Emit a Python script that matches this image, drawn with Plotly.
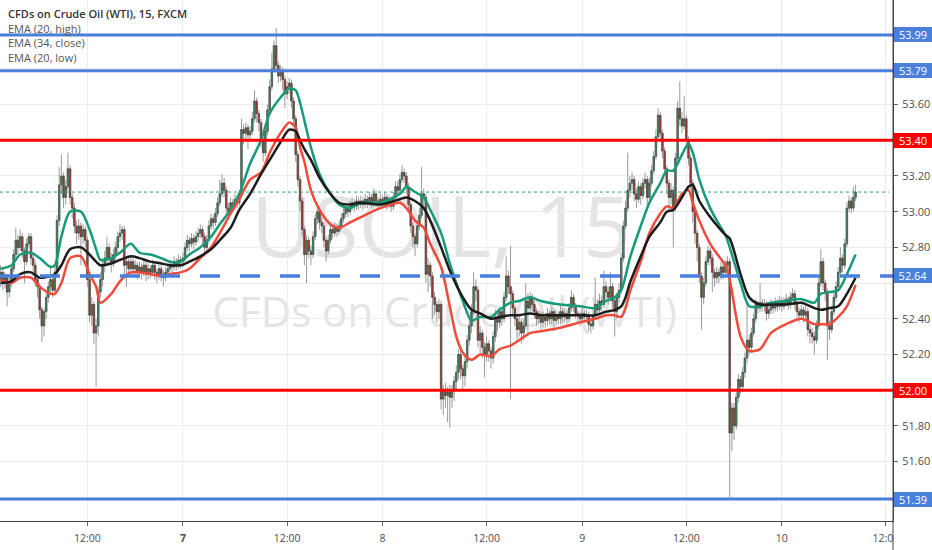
import plotly.graph_objects as go

# ---------------- data (15-minute candles, index = bar number) ----------------
opens = [
52.62, 52.66, 52.60, 52.63, 52.55, 52.60, 52.68, 52.76, 52.84, 52.80,
52.86, 52.78, 52.72, 52.82, 52.86, 52.74, 52.70, 52.62, 52.58, 52.45,
52.36, 52.44, 52.52, 52.58, 52.62, 52.56, 52.66, 52.95, 53.15, 53.20,
53.08, 53.14, 53.24, 53.08, 53.02, 52.92, 52.88, 52.92, 52.86, 52.90,
52.84, 52.62, 52.42, 52.48, 52.32, 52.36, 52.55, 52.62, 52.70, 52.74,
52.80, 52.74, 52.72, 52.76, 52.80, 52.86, 52.88, 52.90, 52.70, 52.72,
52.68, 52.72, 52.68, 52.70, 52.66, 52.69, 52.66, 52.70, 52.65, 52.68,
52.66, 52.70, 52.66, 52.64, 52.68, 52.65, 52.63, 52.66, 52.68, 52.70,
52.69, 52.72, 52.70, 52.73, 52.72, 52.74, 52.80, 52.84, 52.82, 52.85,
52.83, 52.86, 52.88, 52.90, 52.86, 52.80, 52.84, 52.92, 52.96, 52.94,
52.99, 53.05, 53.10, 53.16, 53.12, 53.02, 53.00, 53.05, 53.03, 53.07,
53.05, 53.10, 53.46, 53.44, 53.47, 53.43, 53.45, 53.52, 53.62, 53.55,
53.50, 53.40, 53.33, 53.45, 53.57, 53.70, 53.80, 53.93, 53.82, 53.76,
53.79, 53.74, 53.66, 53.70, 53.72, 53.62, 53.52, 53.32, 53.18, 53.06,
52.90, 52.76, 52.84, 52.78, 52.76, 52.86, 52.96, 53.00, 52.94, 52.92,
52.84, 52.78, 52.84, 52.90, 52.88, 52.91, 52.89, 52.92, 52.96, 52.99,
53.02, 53.00, 53.03, 53.05, 53.03, 53.06, 53.04, 53.06, 53.04, 53.07,
53.05, 53.08, 53.05, 53.10, 53.06, 53.04, 53.07, 53.05, 53.08, 53.04,
53.06, 53.03, 53.08, 53.14, 53.12, 53.18, 53.22, 53.20, 53.14, 53.04,
52.92, 52.86, 52.82, 52.92, 52.98, 53.10, 53.08, 52.65, 52.70, 52.64,
52.52, 52.48, 52.44, 52.48, 51.95, 52.00, 51.97, 51.99, 51.96, 52.00,
52.05, 52.10, 52.20, 52.12, 52.08, 52.16, 52.28, 52.36, 52.44, 52.58,
52.56, 52.28, 52.32, 52.24, 52.20, 52.26, 52.22, 52.18, 52.30, 52.41,
52.38, 52.44, 52.40, 52.52, 52.64, 52.58, 52.54, 52.46, 52.40, 52.34,
52.38, 52.32, 52.36, 52.50, 52.46, 52.52, 52.48, 52.44, 52.40, 52.42,
52.38, 52.41, 52.39, 52.43, 52.40, 52.44, 52.39, 52.42, 52.40, 52.44,
52.41, 52.43, 52.40, 52.46, 52.52, 52.47, 52.43, 52.42, 52.40, 52.43,
52.41, 52.42, 52.37, 52.36, 52.42, 52.48, 52.45, 52.50, 52.48, 52.58,
52.55, 52.52, 52.58, 52.50, 52.44, 52.52, 52.56, 52.74, 52.92, 53.02,
53.12, 53.16, 53.18, 53.10, 53.07, 53.14, 53.09, 53.16, 53.18, 53.08,
53.16, 53.23, 53.31, 53.42, 53.54, 53.44, 53.34, 53.24, 53.16, 53.08,
53.12, 53.02, 53.30, 53.58, 53.52, 53.48, 53.52, 53.40, 53.30, 53.16,
53.00, 52.88, 52.80, 52.64, 52.52, 52.60, 52.72, 52.78, 52.74, 52.66,
52.63, 52.66, 52.64, 52.69, 52.66, 52.70, 52.72, 51.76, 51.90, 51.80,
51.96, 52.06, 52.02, 52.10, 52.18, 52.28, 52.24, 52.32, 52.40, 52.48,
52.46, 52.49, 52.47, 52.48, 52.43, 52.45, 52.48, 52.46, 52.49, 52.47,
52.50, 52.47, 52.49, 52.51, 52.48, 52.52, 52.54, 52.48, 52.44, 52.42,
52.45, 52.42, 52.44, 52.34, 52.32, 52.30, 52.28, 52.36, 52.60, 52.72,
52.60, 52.55, 52.36, 52.34, 52.44, 52.52, 52.58, 52.66, 52.74, 52.70,
52.82, 53.02, 53.06, 53.02, 53.08,
]

highs = [
52.70, 52.68, 52.66, 52.65, 52.63, 52.70, 52.79, 52.91, 52.87, 52.90,
52.88, 52.80, 52.85, 52.88, 52.88, 52.76, 52.72, 52.65, 52.60, 52.47,
52.46, 52.55, 52.61, 52.70, 52.64, 52.70, 52.98, 53.25, 53.32, 53.22,
53.18, 53.33, 53.26, 53.10, 53.05, 52.95, 52.96, 52.94, 52.93, 52.92,
52.86, 52.64, 52.52, 52.50, 52.40, 52.58, 52.66, 52.74, 52.78, 52.86,
52.82, 52.77, 52.79, 52.83, 52.89, 52.93, 52.92, 52.92, 52.75, 52.74,
52.75, 52.74, 52.73, 52.72, 52.72, 52.71, 52.73, 52.72, 52.71, 52.70,
52.73, 52.72, 52.68, 52.71, 52.70, 52.67, 52.69, 52.71, 52.73, 52.72,
52.75, 52.74, 52.76, 52.75, 52.77, 52.83, 52.87, 52.86, 52.88, 52.87,
52.89, 52.91, 52.93, 52.92, 52.88, 52.87, 52.95, 52.99, 52.98, 53.02,
53.08, 53.18, 53.21, 53.19, 53.14, 53.05, 53.08, 53.07, 53.10, 53.09,
53.12, 53.52, 53.49, 53.50, 53.49, 53.48, 53.56, 53.68, 53.64, 53.57,
53.52, 53.42, 53.48, 53.60, 53.74, 53.89, 53.96, 54.03, 53.84, 53.82,
53.81, 53.76, 53.73, 53.75, 53.74, 53.64, 53.54, 53.34, 53.20, 53.08,
52.92, 52.87, 52.86, 52.81, 52.89, 52.99, 53.04, 53.02, 52.97, 52.94,
52.86, 52.87, 52.93, 52.92, 52.94, 52.93, 52.95, 52.99, 53.04, 53.05,
53.04, 53.06, 53.08, 53.07, 53.09, 53.08, 53.09, 53.08, 53.10, 53.09,
53.11, 53.10, 53.13, 53.12, 53.08, 53.10, 53.09, 53.11, 53.10, 53.09,
53.08, 53.11, 53.17, 53.17, 53.21, 53.26, 53.24, 53.22, 53.16, 53.06,
52.94, 52.88, 52.95, 53.02, 53.25, 53.13, 53.10, 52.74, 52.72, 52.66,
52.55, 52.50, 52.51, 52.50, 52.03, 52.04, 52.02, 52.03, 52.03, 52.08,
52.14, 52.23, 52.22, 52.14, 52.19, 52.31, 52.40, 52.48, 52.66, 52.62,
52.58, 52.36, 52.34, 52.27, 52.30, 52.28, 52.24, 52.33, 52.45, 52.44,
52.47, 52.46, 52.55, 52.75, 52.67, 52.81, 52.56, 52.48, 52.42, 52.41,
52.40, 52.40, 52.60, 52.54, 52.55, 52.54, 52.50, 52.46, 52.45, 52.44,
52.44, 52.43, 52.46, 52.45, 52.47, 52.46, 52.45, 52.44, 52.48, 52.46,
52.46, 52.45, 52.49, 52.56, 52.54, 52.49, 52.45, 52.44, 52.46, 52.45,
52.45, 52.44, 52.40, 52.45, 52.63, 52.51, 52.54, 52.53, 52.67, 52.61,
52.58, 52.66, 52.60, 52.52, 52.55, 52.60, 52.77, 52.95, 53.06, 53.33,
53.20, 53.22, 53.20, 53.13, 53.17, 53.16, 53.19, 53.22, 53.20, 53.19,
53.26, 53.34, 53.46, 53.58, 53.56, 53.46, 53.36, 53.26, 53.18, 53.16,
53.14, 53.33, 53.62, 53.73, 53.56, 53.65, 53.54, 53.42, 53.32, 53.18,
53.02, 52.90, 52.82, 52.66, 52.63, 52.75, 52.81, 52.80, 52.76, 52.68,
52.69, 52.68, 52.72, 52.71, 52.73, 52.75, 52.74, 51.93, 51.93, 51.99,
52.09, 52.08, 52.13, 52.21, 52.49, 52.31, 52.35, 52.43, 52.51, 52.50,
52.60, 52.51, 52.51, 52.50, 52.48, 52.51, 52.50, 52.52, 52.51, 52.53,
52.52, 52.52, 52.54, 52.53, 52.55, 52.57, 52.56, 52.50, 52.46, 52.48,
52.47, 52.47, 52.46, 52.37, 52.35, 52.33, 52.39, 52.63, 52.79, 52.74,
52.62, 52.57, 52.39, 52.47, 52.55, 52.61, 52.69, 52.80, 52.76, 52.85,
53.05, 53.09, 53.08, 53.14, 53.15,
]

lows = [
52.58, 52.56, 52.57, 52.47, 52.52, 52.58, 52.66, 52.74, 52.76, 52.78,
52.74, 52.60, 52.70, 52.80, 52.70, 52.64, 52.58, 52.52, 52.40, 52.27,
52.30, 52.40, 52.49, 52.55, 52.52, 52.54, 52.64, 52.92, 53.10, 53.02,
53.04, 53.12, 53.04, 52.96, 52.88, 52.82, 52.84, 52.70, 52.82, 52.80,
52.58, 52.38, 52.36, 52.26, 52.02, 52.30, 52.52, 52.58, 52.66, 52.70,
52.70, 52.66, 52.69, 52.73, 52.77, 52.83, 52.84, 52.64, 52.58, 52.64,
52.65, 52.64, 52.65, 52.62, 52.63, 52.62, 52.64, 52.61, 52.62, 52.63,
52.64, 52.62, 52.60, 52.62, 52.61, 52.58, 52.61, 52.64, 52.66, 52.66,
52.67, 52.67, 52.68, 52.68, 52.69, 52.72, 52.78, 52.78, 52.80, 52.79,
52.81, 52.83, 52.85, 52.82, 52.76, 52.78, 52.82, 52.90, 52.90, 52.92,
52.97, 53.03, 53.08, 53.08, 52.98, 52.96, 52.98, 53.00, 53.01, 53.02,
53.03, 53.08, 53.38, 53.40, 53.35, 53.40, 53.43, 53.50, 53.50, 53.45,
53.36, 53.28, 53.31, 53.43, 53.55, 53.68, 53.78, 53.78, 53.72, 53.73,
53.68, 53.58, 53.63, 53.66, 53.58, 53.48, 53.28, 53.14, 53.00, 52.86,
52.70, 52.60, 52.74, 52.70, 52.74, 52.84, 52.93, 52.90, 52.88, 52.80,
52.72, 52.76, 52.82, 52.85, 52.86, 52.86, 52.87, 52.90, 52.94, 52.97,
52.97, 52.98, 53.01, 53.00, 53.01, 53.01, 53.02, 53.01, 53.02, 53.02,
53.03, 53.02, 53.03, 53.03, 53.01, 53.02, 53.02, 53.03, 53.01, 53.02,
53.00, 53.01, 53.06, 53.09, 53.10, 53.16, 53.16, 53.10, 53.00, 52.88,
52.80, 52.75, 52.80, 52.90, 52.96, 53.02, 52.60, 52.55, 52.58, 52.40,
52.42, 52.38, 52.40, 51.89, 51.86, 51.90, 51.82, 51.79, 51.90, 51.94,
52.00, 52.06, 52.06, 52.00, 52.02, 52.12, 52.25, 52.32, 52.42, 52.50,
52.24, 52.20, 52.18, 52.07, 52.16, 52.16, 52.12, 52.15, 52.27, 52.33,
52.35, 52.36, 52.38, 52.50, 52.54, 51.95, 52.42, 52.36, 52.28, 52.30,
52.26, 52.28, 52.34, 52.30, 52.43, 52.44, 52.40, 52.36, 52.37, 52.34,
52.35, 52.35, 52.36, 52.37, 52.37, 52.33, 52.36, 52.37, 52.37, 52.38,
52.38, 52.37, 52.38, 52.44, 52.44, 52.40, 52.38, 52.36, 52.37, 52.38,
52.38, 52.33, 52.32, 52.34, 52.40, 52.42, 52.43, 52.44, 52.46, 52.51,
52.48, 52.50, 52.46, 52.30, 52.40, 52.49, 52.54, 52.72, 52.90, 53.00,
53.08, 53.12, 53.06, 53.02, 53.05, 53.04, 53.07, 53.13, 53.02, 53.06,
53.14, 53.21, 53.29, 53.40, 53.40, 53.30, 53.20, 53.10, 53.00, 53.04,
52.80, 53.00, 53.28, 53.48, 53.44, 53.46, 53.36, 53.26, 53.12, 52.94,
52.82, 52.72, 52.60, 52.34, 52.48, 52.58, 52.70, 52.70, 52.55, 52.58,
52.60, 52.60, 52.62, 52.62, 52.64, 52.66, 51.40, 51.66, 51.72, 51.78,
51.93, 51.98, 51.99, 52.07, 52.15, 52.20, 52.21, 52.30, 52.38, 52.43,
52.44, 52.44, 52.44, 52.39, 52.40, 52.43, 52.43, 52.44, 52.44, 52.45,
52.44, 52.45, 52.47, 52.45, 52.46, 52.50, 52.45, 52.40, 52.38, 52.40,
52.38, 52.39, 52.30, 52.26, 52.26, 52.20, 52.26, 52.34, 52.58, 52.56,
52.50, 52.17, 52.28, 52.32, 52.42, 52.50, 52.56, 52.64, 52.66, 52.68,
52.80, 53.00, 52.99, 53.00, 53.06,
]

closes = [
52.66, 52.60, 52.63, 52.55, 52.60, 52.68, 52.76, 52.84, 52.80, 52.86,
52.78, 52.72, 52.82, 52.86, 52.74, 52.70, 52.62, 52.58, 52.45, 52.36,
52.44, 52.52, 52.58, 52.62, 52.56, 52.66, 52.95, 53.15, 53.20, 53.08,
53.14, 53.24, 53.08, 53.02, 52.92, 52.88, 52.92, 52.86, 52.90, 52.84,
52.62, 52.42, 52.48, 52.32, 52.36, 52.55, 52.62, 52.70, 52.74, 52.80,
52.74, 52.72, 52.76, 52.80, 52.86, 52.88, 52.90, 52.70, 52.72, 52.68,
52.72, 52.68, 52.70, 52.66, 52.69, 52.66, 52.70, 52.65, 52.68, 52.66,
52.70, 52.66, 52.64, 52.68, 52.65, 52.63, 52.66, 52.68, 52.70, 52.69,
52.72, 52.70, 52.73, 52.72, 52.74, 52.80, 52.84, 52.82, 52.85, 52.83,
52.86, 52.88, 52.90, 52.86, 52.80, 52.84, 52.92, 52.96, 52.94, 52.99,
53.05, 53.10, 53.16, 53.12, 53.02, 53.00, 53.05, 53.03, 53.07, 53.05,
53.10, 53.46, 53.44, 53.47, 53.43, 53.45, 53.52, 53.62, 53.55, 53.50,
53.40, 53.33, 53.45, 53.57, 53.70, 53.80, 53.93, 53.82, 53.76, 53.79,
53.74, 53.66, 53.70, 53.72, 53.62, 53.52, 53.32, 53.18, 53.06, 52.90,
52.76, 52.84, 52.78, 52.76, 52.86, 52.96, 53.00, 52.94, 52.92, 52.84,
52.78, 52.84, 52.90, 52.88, 52.91, 52.89, 52.92, 52.96, 52.99, 53.02,
53.00, 53.03, 53.05, 53.03, 53.06, 53.04, 53.06, 53.04, 53.07, 53.05,
53.08, 53.05, 53.10, 53.06, 53.04, 53.07, 53.05, 53.08, 53.04, 53.06,
53.03, 53.08, 53.14, 53.12, 53.18, 53.22, 53.20, 53.14, 53.04, 52.92,
52.86, 52.82, 52.92, 52.98, 53.10, 53.08, 52.65, 52.70, 52.64, 52.52,
52.48, 52.44, 52.48, 51.95, 52.00, 51.97, 51.99, 51.96, 52.00, 52.05,
52.10, 52.20, 52.12, 52.08, 52.16, 52.28, 52.36, 52.44, 52.58, 52.56,
52.28, 52.32, 52.24, 52.20, 52.26, 52.22, 52.18, 52.30, 52.41, 52.38,
52.44, 52.40, 52.52, 52.64, 52.58, 52.54, 52.46, 52.40, 52.34, 52.38,
52.32, 52.36, 52.50, 52.46, 52.52, 52.48, 52.44, 52.40, 52.42, 52.38,
52.41, 52.39, 52.43, 52.40, 52.44, 52.39, 52.42, 52.40, 52.44, 52.41,
52.43, 52.40, 52.46, 52.52, 52.47, 52.43, 52.42, 52.40, 52.43, 52.41,
52.42, 52.37, 52.36, 52.42, 52.48, 52.45, 52.50, 52.48, 52.58, 52.55,
52.52, 52.58, 52.50, 52.44, 52.52, 52.56, 52.74, 52.92, 53.02, 53.12,
53.16, 53.18, 53.10, 53.07, 53.14, 53.09, 53.16, 53.18, 53.08, 53.16,
53.23, 53.31, 53.42, 53.54, 53.44, 53.34, 53.24, 53.16, 53.08, 53.12,
53.02, 53.30, 53.58, 53.52, 53.48, 53.52, 53.40, 53.30, 53.16, 53.00,
52.88, 52.80, 52.64, 52.52, 52.60, 52.72, 52.78, 52.74, 52.66, 52.63,
52.66, 52.64, 52.69, 52.66, 52.70, 52.72, 51.76, 51.90, 51.80, 51.96,
52.06, 52.02, 52.10, 52.18, 52.28, 52.24, 52.32, 52.40, 52.48, 52.46,
52.49, 52.47, 52.48, 52.43, 52.45, 52.48, 52.46, 52.49, 52.47, 52.50,
52.47, 52.49, 52.51, 52.48, 52.52, 52.54, 52.48, 52.44, 52.42, 52.45,
52.42, 52.44, 52.34, 52.32, 52.30, 52.28, 52.36, 52.60, 52.72, 52.60,
52.55, 52.36, 52.34, 52.44, 52.52, 52.58, 52.66, 52.74, 52.70, 52.82,
53.02, 53.06, 53.02, 53.08, 53.11,
]

# EMA indicator readings (bar index, value)
ema_x = [0, 5, 9, 14, 18, 23, 25, 28, 32, 37,
         41, 44, 46, 51, 55, 60, 64, 69, 74, 78,
         83, 87, 92, 97, 101, 106, 110, 115, 120, 124,
         129, 133, 136, 138, 140, 143, 147, 152, 156, 161,
         166, 175, 184, 187, 191, 195, 198, 203, 207, 210,
         213, 217, 221, 226, 230, 235, 239, 244, 249, 258,
         267, 274, 279, 283, 286, 288, 290, 295, 299, 304,
         307, 310, 314, 317, 319, 322, 327, 331, 334, 336,
         341, 345, 350, 355, 362, 369, 375, 378, 382, 386,
         390, 394]
ema_high = [52.68, 52.70, 52.76, 52.77, 52.74, 52.69, 52.70, 52.86, 53.00, 53.00,
            52.90, 52.79, 52.73, 52.74, 52.77, 52.82, 52.77, 52.76, 52.74, 52.72,
            52.72, 52.76, 52.80, 52.86, 52.93, 53.01, 53.10, 53.27, 53.40, 53.55,
            53.64, 53.69, 53.68, 53.61, 53.51, 53.36, 53.21, 53.10, 53.04, 53.02,
            53.05, 53.05, 53.10, 53.14, 53.11, 53.08, 53.01, 52.88, 52.71, 52.60,
            52.50, 52.39, 52.41, 52.41, 52.45, 52.49, 52.50, 52.52, 52.50, 52.48,
            52.47, 52.46, 52.50, 52.52, 52.56, 52.64, 52.74, 52.92, 53.05, 53.16,
            53.23, 53.23, 53.32, 53.38, 53.33, 53.18, 53.02, 52.93, 52.87, 52.80,
            52.60, 52.47, 52.47, 52.49, 52.50, 52.51, 52.49, 52.54, 52.55, 52.56,
            52.65, 52.76]
ema_close = [52.60, 52.61, 52.65, 52.66, 52.63, 52.64, 52.65, 52.70, 52.79, 52.80,
             52.76, 52.72, 52.70, 52.71, 52.73, 52.75, 52.74, 52.72, 52.71, 52.70,
             52.70, 52.72, 52.75, 52.79, 52.84, 52.91, 53.01, 53.10, 53.21, 53.29,
             53.39, 53.46, 53.45, 53.40, 53.35, 53.29, 53.19, 53.10, 53.05, 53.04,
             53.05, 53.04, 53.07, 53.08, 53.06, 53.02, 52.95, 52.80, 52.67, 52.59,
             52.52, 52.45, 52.43, 52.40, 52.41, 52.42, 52.42, 52.43, 52.42, 52.42,
             52.42, 52.42, 52.44, 52.45, 52.47, 52.52, 52.60, 52.75, 52.86, 52.94,
             53.00, 53.01, 53.08, 53.14, 53.15, 53.06, 52.97, 52.91, 52.87, 52.85,
             52.65, 52.52, 52.48, 52.48, 52.48, 52.49, 52.46, 52.45, 52.46, 52.47,
             52.54, 52.63]
ema_low = [52.62, 52.60, 52.63, 52.63, 52.58, 52.54, 52.54, 52.60, 52.74, 52.75,
           52.65, 52.58, 52.49, 52.54, 52.61, 52.66, 52.66, 52.65, 52.64, 52.65,
           52.66, 52.68, 52.74, 52.80, 52.88, 52.99, 53.07, 53.18, 53.22, 53.33,
           53.44, 53.50, 53.47, 53.36, 53.28, 53.12, 53.01, 52.93, 52.91, 52.94,
           52.97, 53.02, 53.05, 53.02, 52.95, 52.91, 52.82, 52.69, 52.47, 52.30,
           52.21, 52.17, 52.20, 52.19, 52.23, 52.25, 52.28, 52.32, 52.33, 52.35,
           52.38, 52.40, 52.42, 52.42, 52.41, 52.46, 52.55, 52.72, 52.88, 52.99,
           53.03, 53.02, 53.10, 53.12, 53.05, 52.95, 52.82, 52.75, 52.70, 52.62,
           52.30, 52.22, 52.23, 52.32, 52.37, 52.40, 52.37, 52.37, 52.37, 52.41,
           52.47, 52.59]

# horizontal levels drawn on the chart
blue_levels = [53.99, 53.79, 51.39]
red_levels = [53.40, 52.00]
dashed_level = 52.64
last_price = 53.11

# price scale labels (the others sit under the level boxes)
price_ticks = [51.60, 51.80, 52.20, 52.40, 52.80, 53.00, 53.20, 53.60]

# time axis ticks (bar index of each label)
tick_bars = [40, 84, 132, 176, 224, 268, 316, 360, 408]
tick_text = ["12:00", "<b>7</b>", "12:00", "8", "12:00", "9", "12:00", "10", "12:00"]

# ---------------- styling ----------------
FONT = "Open Sans"
UP = "#3c9362"
DOWN = "#b43c2e"
OUTLINE = "#3a3a3a"
WICK = "#9a9a9a"
TEAL = "#179a7a"
BLACK = "#1c1c1c"
RED_EMA = "#f04a3b"
BLUE = "#4a7fdc"
RED = "#ff0000"
GRID = "#ececec"

n = min(len(opens), len(highs), len(lows), len(closes))
bars = list(range(n))
o, h, l, c = opens[:n], highs[:n], lows[:n], closes[:n]
body_top = [max(a, b) for a, b in zip(o, c)]
body_bot = [min(a, b) for a, b in zip(o, c)]

fig = go.Figure()

# wicks
fig.add_trace(go.Candlestick(
    x=bars, open=o, high=h, low=l, close=c,
    increasing=dict(line=dict(color=WICK, width=1), fillcolor=WICK),
    decreasing=dict(line=dict(color=WICK, width=1), fillcolor=WICK),
    whiskerwidth=0, showlegend=False, hoverinfo="skip"))
# bodies
fig.add_trace(go.Candlestick(
    x=bars, open=o, high=body_top, low=body_bot, close=c,
    increasing=dict(line=dict(color=OUTLINE, width=0.5), fillcolor=UP),
    decreasing=dict(line=dict(color=OUTLINE, width=0.5), fillcolor=DOWN),
    whiskerwidth=0, showlegend=False, hoverinfo="skip"))

for vals, col in [(ema_high, TEAL), (ema_low, RED_EMA), (ema_close, BLACK)]:
    fig.add_trace(go.Scatter(x=ema_x, y=vals, mode="lines",
                             line=dict(color=col, width=2.5, shape="spline", smoothing=0.8),
                             showlegend=False, hoverinfo="skip"))

# level lines
for v in blue_levels:
    fig.add_shape(type="line", xref="paper", x0=0, x1=1, yref="y", y0=v, y1=v,
                  line=dict(color=BLUE, width=3), layer="above")
for v in red_levels:
    fig.add_shape(type="line", xref="paper", x0=0, x1=1, yref="y", y0=v, y1=v,
                  line=dict(color=RED, width=3), layer="above")
fig.add_shape(type="line", xref="paper", x0=0, x1=1, yref="y", y0=dashed_level, y1=dashed_level,
              line=dict(color=BLUE, width=3.5, dash="20px,20px"), layer="above")
fig.add_shape(type="line", xref="paper", x0=0, x1=0.9955, yref="y", y0=last_price, y1=last_price,
              line=dict(color="#2a9a7c", width=1, dash="dot"), layer="above")
# price-axis line running down through the time scale
fig.add_shape(type="line", xref="paper", x0=1, x1=1, yref="paper", y0=-0.06, y1=1,
              line=dict(color="#444444", width=1), layer="above")

# watermark
fig.add_shape(type="rect", xref="paper", yref="paper", x0=0.394, x1=0.594, y0=0.547, y1=0.567,
              line=dict(width=0), fillcolor="rgba(0,0,0,0)", layer="below",
              label=dict(text="USOIL, 15", textposition="middle center",
                         font=dict(family=FONT, size=84, color="#e4e4e4")))
fig.add_shape(type="rect", xref="paper", yref="paper", x0=0.398, x1=0.598, y0=0.389, y1=0.409,
              line=dict(width=0), fillcolor="rgba(0,0,0,0)", layer="below",
              label=dict(text="CFDs on Crude Oil (WTI)", textposition="middle center",
                         font=dict(family=FONT, size=42, color="#e4e4e4")))

annotations = []
for v in blue_levels + [dashed_level]:
    annotations.append(dict(x=1, xref="paper", xanchor="left", xshift=1, y=v, yref="y",
                            text=f"{v:.2f}", showarrow=False, bgcolor=BLUE, bordercolor=BLUE,
                            borderwidth=1, borderpad=1, width=34, height=11,
                            font=dict(family=FONT, size=11, color="white")))
for v in red_levels:
    annotations.append(dict(x=1, xref="paper", xanchor="left", xshift=1, y=v, yref="y",
                            text=f"{v:.2f}", showarrow=False, bgcolor=RED, bordercolor=RED,
                            borderwidth=1, borderpad=1, width=34, height=11,
                            font=dict(family=FONT, size=11, color="white")))
# the price scale hides the part of the last time label that runs under it
annotations.append(dict(x=1, xref="paper", xanchor="left", xshift=1, y=-0.012, yref="paper",
                        yanchor="top", text=" ", showarrow=False, bgcolor="white",
                        borderwidth=0, width=38, height=20))
# legend text
legend_lines = [("CFDs on Crude Oil (WTI), 15, FXCM", 14, "#333333", 600),
                ("EMA (20, high)", 28, "#555555", 400),
                ("EMA (34, close)", 42, "#555555", 400),
                ("EMA (20, low)", 57, "#555555", 400)]
for txt, ypx, col, wt in legend_lines:
    annotations.append(dict(x=6 / 893, xref="paper", xanchor="left", y=1 - ypx / 521, yref="paper",
                            yanchor="middle", text=txt, showarrow=False,
                            font=dict(family=FONT, size=11, color=col, weight=wt)))

fig.update_layout(
    width=932, height=550,
    margin=dict(l=0, r=39, t=0, b=29),
    paper_bgcolor="white", plot_bgcolor="rgba(0,0,0,0)",
    font=dict(family=FONT, size=11, color="#4d4d4d"),
    showlegend=False,
    boxgap=0.05,
    annotations=annotations,
    xaxis=dict(range=[-0.28, 411.25], tickmode="array", tickvals=tick_bars, ticktext=tick_text,
               showgrid=True, gridcolor=GRID, gridwidth=1, zeroline=False,
               showline=True, linecolor="#444444", linewidth=1,
               ticks="outside", ticklen=4, tickcolor="#666666",
               tickfont=dict(family=FONT, size=10.5, color="#4d4d4d"),
               ticklabelstandoff=3,
               rangeslider=dict(visible=False), fixedrange=True),
    yaxis=dict(range=[51.267, 54.186], side="right", tickmode="array", tickvals=price_ticks,
               tickformat=".2f",
               showgrid=True, gridcolor=GRID, gridwidth=1, zeroline=False,
               minor=dict(tick0=51.6, dtick=0.2, showgrid=True, gridcolor=GRID, ticks=""),
               showline=True, linecolor="#444444", linewidth=1,
               ticks="outside", ticklen=4, tickcolor="#666666",
               tickfont=dict(family=FONT, size=11, color="#4d4d4d"),
               ticklabelstandoff=2, fixedrange=True),
)

fig.write_html("out.html", config={"displayModeBar": False},
               post_script="document.body.style.margin='0';document.body.style.padding='0';")
